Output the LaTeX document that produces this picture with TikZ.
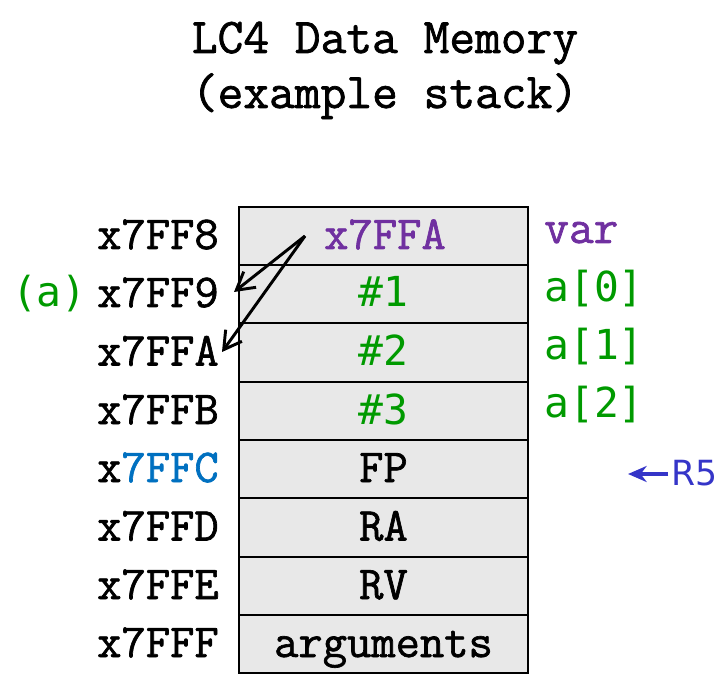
\documentclass[tikz,border=0pt]{standalone}
\usepackage{fontspec}
\setmainfont{Liberation Serif}
\newfontfamily\cour[FakeBold=1.4]{Latin Modern Mono}
\newfontfamily\smono{DejaVu Sans Mono}
\newfontfamily\rsans{DejaVu Sans}
\usetikzlibrary{arrows.meta}
\definecolor{vpurple}{HTML}{7030A0}
\definecolor{vgreen}{HTML}{009A00}
\definecolor{vblue}{HTML}{0070C0}
\definecolor{rblue}{HTML}{3535C8}
\definecolor{cellgray}{HTML}{E8E8E8}
\tikzset{
  cell/.style={draw=black, line width=1.5pt, fill=cellgray, minimum width=216.75pt, minimum height=43.7pt, inner sep=0pt},
  celltxt/.style={font=\fontsize{35.4}{40}\selectfont\cour, inner sep=0pt, anchor=base},
  addr/.style={font=\fontsize{35.4}{40}\selectfont\cour, inner sep=0pt, anchor=base east},
  side/.style={font=\fontsize{31}{35}\selectfont\smono, inner sep=0pt, anchor=base west},
  ptr/.style={line width=2.2pt, -{Straight Barb[length=13pt,width=15pt,line width=2.2pt]}},
}
\begin{document}
\begin{tikzpicture}[x=0.75pt,y=-0.75pt]
\useasboundingbox (0,0) rectangle (728,691);
% title
\node[font=\fontsize{37.5}{44}\selectfont\cour, inner sep=0pt, anchor=base] (title1) at (385,53) {LC4 Data Memory};
\node[font=\fontsize{37.5}{44}\selectfont\cour, inner sep=0pt, anchor=base] (title2) at (385,108) {(example stack)};
% cells
\foreach \i/\y in {0/236,1/294.3,2/352.6,3/410.9,4/469.2,5/527.5,6/585.8,7/644.1}{
  \node[cell] (c\i) at (383.5,\y) {};
}
% cell contents
\node[celltxt, text=vpurple] (v0) at (385,249) {x7FFA};
\node[side, anchor=base, text=vgreen] (v1) at (383,307) {\#1};
\node[side, anchor=base, text=vgreen] (v2) at (383,365.5) {\#2};
\node[side, anchor=base, text=vgreen] (v3) at (383,424) {\#3};
\node[celltxt] (v4) at (383.5,482) {FP};
\node[celltxt] (v5) at (383.5,540.5) {RA};
\node[celltxt] (v6) at (383.5,599) {RV};
\node[celltxt] (v7) at (383.5,657) {arguments};
% addresses
\node[addr] (a0) at (219,249) {x7FF8};
\node[addr] (a1) at (219,307) {x7FF9};
\node[addr] (a2) at (219,365.5) {x7FFA};
\node[addr] (a3) at (219,424) {x7FFB};
\node[addr] (a4) at (219,482) {x\textcolor{vblue}{7FFC}};
\node[addr] (a5) at (219,540.5) {x7FFD};
\node[addr] (a6) at (219,599) {x7FFE};
\node[addr] (a7) at (219,657) {x7FFF};
\node[side, anchor=base east, text=vgreen] (alab) at (87,307) {(a)};
% right labels
\node[side, text=vpurple, font=\fontsize{36}{40}\selectfont\cour] (r0) at (544,243) {var};
\node[side, text=vgreen] (r1) at (544,302) {a[0]};
\node[side, text=vgreen] (r2) at (544,360) {a[1]};
\node[side, text=vgreen] (r3) at (544,417) {a[2]};
% R5
\node[font=\fontsize{26}{30}\selectfont\rsans, text=rblue, inner sep=0pt, anchor=base west] (r5) at (671,485) {R5};
\coordinate (r5t) at (628,474);
\draw[rblue, line width=3pt, -{Stealth[length=14pt,width=12pt]}] ([xshift=-2pt]r5.west |- r5t) -- (r5t);
% pointer arrows
\coordinate (p0) at (305,236);
\coordinate (t1) at (234,292);
\coordinate (t2) at (222,352);
\draw[ptr] (p0) -- (t1);
\draw[ptr] (p0) -- (t2);
\end{tikzpicture}
\end{document}
